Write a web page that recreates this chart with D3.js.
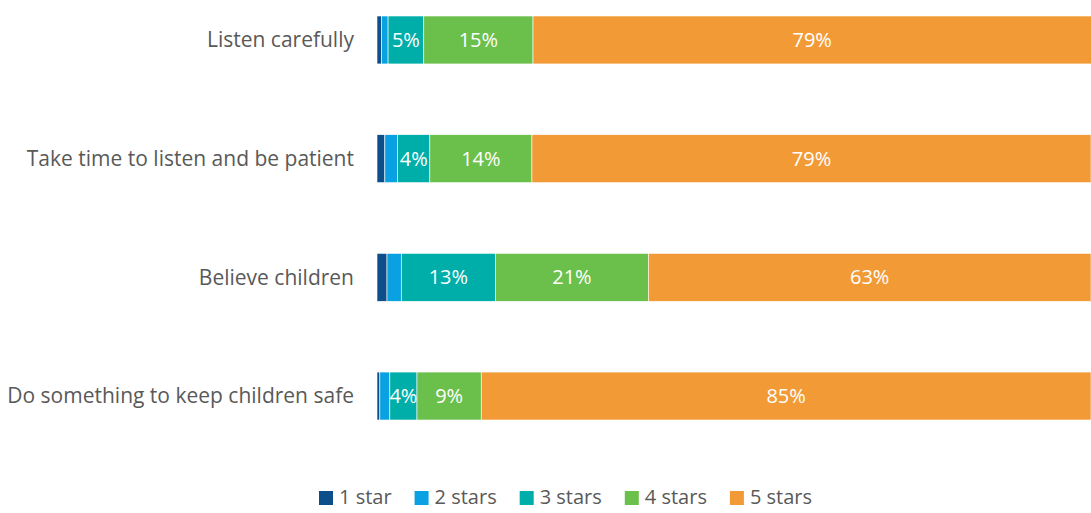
<!DOCTYPE html>
<html>
<head>
<meta charset="utf-8">
<script src="https://cdn.jsdelivr.net/npm/d3@7"></script>
<style>
  body { margin: 0; background: #fff; }
  svg { display: block; font-family: "Open Sans", "Noto Sans", sans-serif; }
</style>
</head>
<body>
<svg id="chart" width="1091" height="513"></svg>
<script>
// data (percent of respondents)
var categories = ["Listen carefully", "Take time to listen and be patient", "Believe children", "Do something to keep children safe"];
var seriesNames = ["1 star", "2 stars", "3 stars", "4 stars", "5 stars"];
var oneStar   = [0.65, 1.1, 1.4, 0.4];
var twoStars  = [0.9, 1.8, 2.0, 1.4];
var threeStars = [5.0, 4.5, 13.2, 3.8];
var fourStars = [15.3, 14.3, 21.4, 9.0];
var fiveStars = [78.2, 78.3, 62.0, 85.4];
var labelThreeStars = ["5%", "4%", "13%", "4%"];
var labelFourStars  = ["15%", "14%", "21%", "9%"];
var labelFiveStars  = ["79%", "79%", "63%", "85%"];
var colors = ["#0d4f8b", "#0aa1e2", "#00aea9", "#6bbf4b", "#f29b36"];

var series = [oneStar, twoStars, threeStars, fourStars, fiveStars];
var labels = [null, null, labelThreeStars, labelFourStars, labelFiveStars];

var rows = categories.map(function(c, i) {
  var r = { cat: c };
  seriesNames.forEach(function(s, j) { r[s] = series[j][i]; });
  return r;
});

var stacked = d3.stack().keys(seriesNames)(rows);

var svg = d3.select("#chart");

var x = d3.scaleLinear().domain([0, 100]).range([377, 1091]);
var y = d3.scaleBand().domain(categories).range([16, 420]).paddingInner(0.596).paddingOuter(0);

// bars
var layer = svg.selectAll("g.layer").data(stacked).enter()
  .append("g").attr("class", "layer")
  .style("fill", function(d, i) { return colors[i]; });

layer.selectAll("rect").data(function(d) { return d; }).enter()
  .append("rect")
  .attr("x", function(d) { return x(d[0]); })
  .attr("y", function(d) { return y(d.data.cat); })
  .attr("width", function(d) { return x(d[1]) - x(d[0]); })
  .attr("height", y.bandwidth())
  .style("stroke", "#fff")
  .style("stroke-width", 0.6);

// value labels inside segments
stacked.forEach(function(s, j) {
  if (!labels[j]) return;
  svg.append("g").selectAll("text").data(s).enter()
    .append("text")
    .attr("x", function(d) { return (x(d[0]) + x(d[1])) / 2; })
    .attr("y", function(d) { return y(d.data.cat) + y.bandwidth() / 2; })
    .attr("dy", "0.35em")
    .attr("text-anchor", "middle")
    .style("fill", "#fff")
    .style("font-size", "20px")
    .text(function(d, i) { return labels[j][i]; });
});

// category labels
svg.append("g").selectAll("text").data(categories).enter()
  .append("text")
  .attr("x", 354)
  .attr("y", function(d) { return y(d) + y.bandwidth() / 2; })
  .attr("dy", "0.35em")
  .attr("text-anchor", "end")
  .style("fill", "#595959")
  .style("font-size", "21px")
  .text(function(d) { return d; });

// legend, items laid out by their text width
var legend = svg.append("g").attr("transform", "translate(319,497)");
var lx = 0;
seriesNames.forEach(function(name, i) {
  var g = legend.append("g").attr("transform", "translate(" + lx + ",0)");
  g.append("rect")
    .attr("x", 0).attr("y", -6)
    .attr("width", 14).attr("height", 14)
    .style("fill", colors[i]);
  var t = g.append("text")
    .attr("x", 20)
    .attr("y", 0)
    .attr("dy", "0.35em")
    .style("fill", "#595959")
    .style("font-size", "20px")
    .text(name);
  lx += 20 + t.node().getComputedTextLength() + 23;
});
</script>
</body>
</html>
